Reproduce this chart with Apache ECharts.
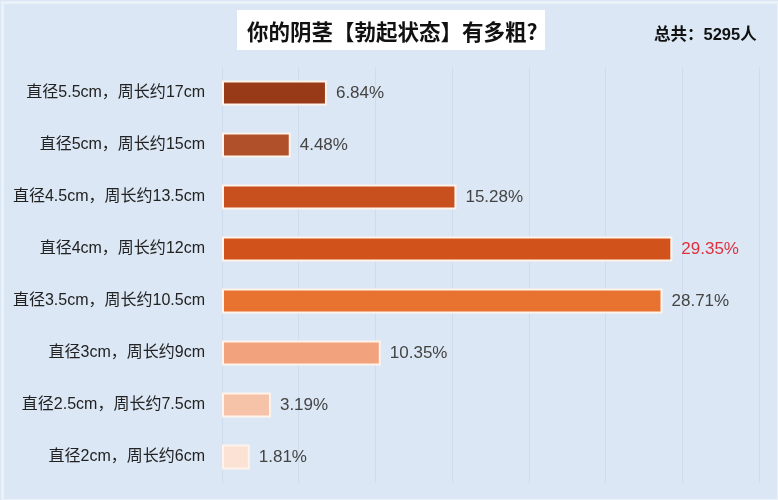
<!DOCTYPE html>
<html>
<head>
<meta charset="utf-8">
<script src="https://cdn.jsdelivr.net/npm/echarts@6/dist/echarts.min.js"></script>
<style>
html,body{margin:0;padding:0;background:#dbe7f4;}
#c{width:778px;height:500px;}
</style>
</head>
<body>
<div id="c"></div>
<script>
const categories = ['直径5.5cm，周长约17cm','直径5cm，周长约15cm','直径4.5cm，周长约13.5cm','直径4cm，周长约12cm','直径3.5cm，周长约10.5cm','直径3cm，周长约9cm','直径2.5cm，周长约7.5cm','直径2cm，周长约6cm'];
const values = [6.84, 4.48, 15.28, 29.35, 28.71, 10.35, 3.19, 1.81];
const barColors = ['#983a17','#b0502a','#c8501e','#d2521b','#e8722f','#f2a37e','#f6c2a8','#fbe2d5'];
const titleText = '你的阴茎【勃起状态】有多粗?';
const totalText = '总共：5295人';
const highlightIndex = 3;

const chart = echarts.init(document.getElementById('c'));
chart.setOption({
  backgroundColor: '#dbe7f4',
  animation: false,
  graphic: [
    {type:'rect', left:0, top:0, shape:{width:776, height:498}, style:{fill:'none', stroke:'#eaf1f9', lineWidth:3}},
    {type:'rect', left:237, top:10, shape:{width:308, height:40}, style:{fill:'#ffffff'}}
  ],
  title: [
    {text: titleText, left: 242, top: 16, textStyle:{fontSize:21.5, fontWeight:'bold', color:'#111', fontFamily:'Noto Sans CJK SC'}},
    {text: totalText, left: 649, top: 22, textStyle:{fontSize:16.5, fontWeight:'bold', color:'#111', fontFamily:'Liberation Sans, Noto Sans CJK SC'}}
  ],
  grid: {left:222, right:19, top:67, bottom:17, containLabel:false},
  xAxis: {
    type:'value', min:0, max:35, interval:5,
    axisLabel:{show:false}, axisLine:{show:false}, axisTick:{show:false},
    splitLine:{show:true, lineStyle:{color:'#cfdceb', width:1}}
  },
  yAxis: {
    type:'category', data: categories, inverse:true,
    axisLine:{show:false}, axisTick:{show:false},
    axisLabel:{margin:17, fontSize:16, color:'#222', fontFamily:'Liberation Sans, Noto Sans CJK SC'}
  },
  series: [{
    type:'bar',
    data: values.map((v,i)=>({
      value:v,
      itemStyle:{color:barColors[i]},
      label:{color: i===highlightIndex ? '#e0303e' : '#444'}
    })),
    barWidth:25,
    itemStyle:{borderColor:'#fff4ec', borderWidth:2},
    label:{show:true, position:'right', distance:9, fontSize:17, fontFamily:'Liberation Sans', formatter: p => p.value.toFixed(2)+'%'}
  }]
});
</script>
</body>
</html>
